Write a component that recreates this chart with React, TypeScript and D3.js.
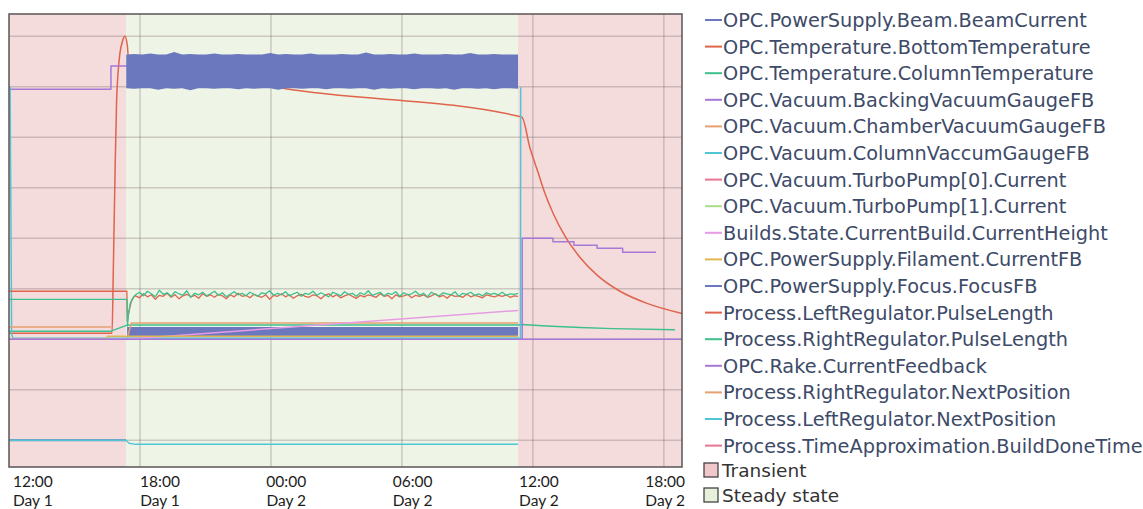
import { useEffect, useRef } from "react";
import * as d3 from "d3";

type Pt = [number, number | null];

// time axis: hours since 12:00 on day 1
const tickHours = [0, 6, 12, 18, 24, 30];
const tickTimes = ["12:00", "18:00", "00:00", "06:00", "12:00", "18:00"];
const tickDays = ["Day 1", "Day 1", "Day 2", "Day 2", "Day 2", "Day 2"];
const timeEnd = 30.83;
const gridValues = [0, 1, 2, 3, 4, 5, 6, 7, 8];

const regionStart = [0, 5.36, 23.32];
const regionEnd = [5.36, 23.32, 30.83];
const regionKind = ["Transient", "Steady state", "Transient"];
const regionFill: Record<string, string> = { Transient: "#f4dcdd", "Steady state": "#eff5e6" };
const regionSwatch: Record<string, string> = { Transient: "#f0c8cb", "Steady state": "#e6f0da" };
const legendRegions = ["Transient", "Steady state"];

const seriesNames = [
  "OPC.PowerSupply.Beam.BeamCurrent",
  "OPC.Temperature.BottomTemperature",
  "OPC.Temperature.ColumnTemperature",
  "OPC.Vacuum.BackingVacuumGaugeFB",
  "OPC.Vacuum.ChamberVacuumGaugeFB",
  "OPC.Vacuum.ColumnVaccumGaugeFB",
  "OPC.Vacuum.TurboPump[0].Current",
  "OPC.Vacuum.TurboPump[1].Current",
  "Builds.State.CurrentBuild.CurrentHeight",
  "OPC.PowerSupply.Filament.CurrentFB",
  "OPC.PowerSupply.Focus.FocusFB",
  "Process.LeftRegulator.PulseLength",
  "Process.RightRegulator.PulseLength",
  "OPC.Rake.CurrentFeedback",
  "Process.RightRegulator.NextPosition",
  "Process.LeftRegulator.NextPosition",
  "Process.TimeApproximation.BuildDoneTime",
];
const palette = [
  "#6b78be", "#e0634c", "#3dbf8e", "#a678d8", "#e6a072",
  "#4fc6d6", "#e87592", "#a9dd8a", "#e79be3", "#dfb650",
];

// dense oscillating signals, shown as min/max envelopes
const beamHi = [2.24, 2.24, 2.24, 2.24, 2.24];
const beamLo = [2.04, 2.04, 2.04, 2.04, 2.04];
const beamSpan = [5.41, 23.32];

const focusHi = [7.64, 7.65, 7.64, 7.66, 7.64, 7.64, 7.69, 7.64, 7.65, 7.64, 7.64, 7.66, 7.64, 7.64, 7.65, 7.64, 7.64,
  7.64, 7.67, 7.64, 7.65, 7.64, 7.64, 7.66, 7.64, 7.64, 7.64, 7.65, 7.64, 7.64, 7.68, 7.64, 7.64, 7.65, 7.64, 7.64,
  7.66, 7.64, 7.64, 7.64, 7.65, 7.64, 7.64, 7.67, 7.64, 7.64, 7.65, 7.64, 7.64, 7.64];
const focusLo = [6.97, 6.96, 6.97, 6.97, 6.94, 6.97, 6.96, 6.97, 6.93, 6.97, 6.97, 6.96, 6.97, 6.97, 6.95, 6.97, 6.96,
  6.97, 6.97, 6.94, 6.97, 6.97, 6.96, 6.97, 6.97, 6.95, 6.97, 6.97, 6.96, 6.97, 6.97, 6.94, 6.97, 6.96, 6.97, 6.97,
  6.95, 6.97, 6.97, 6.96, 6.97, 6.94, 6.97, 6.97, 6.96, 6.97, 6.95, 6.97, 6.97, 6.96];
const focusSpan = [5.37, 23.32];
const focusIdle: Pt[] = [[0, 0], [5.36, 0]];

const bottomTemp: Pt[] = [
  [0, 2.12], [4.72, 2.12], [4.78, 3.4], [4.86, 5.35], [4.93, 6.73], [5.0, 7.3], [5.08, 7.66], [5.21, 7.92],
  [5.31, 8.0], [5.42, 7.82], [5.47, 7.58], [12.55, 6.97], [23.49, 6.4], [23.87, 5.78], [24.23, 5.31],
  [24.55, 4.89], [24.92, 4.5], [25.47, 4.04], [26.16, 3.62], [26.94, 3.27], [27.99, 2.95], [29.23, 2.71],
  [30.83, 2.51],
];
const columnTemp: Pt[] = [
  [0, 2.16], [4.67, 2.16], [5.41, 2.28], [23.32, 2.28], [23.49, 2.29], [24.63, 2.26], [26.16, 2.23],
  [27.67, 2.21], [30.51, 2.19],
];
const backingVacuum: Pt[] = [
  [0, 6.95], [4.67, 7.41], [23.32, 7.41], [23.4, null], [23.47, 2.0], [23.51, 4.0], [24.92, 3.93],
  [25.88, 3.86], [26.94, 3.8], [28.11, 3.72], [29.64, 3.72],
];
const chamberVacuum: Pt[] = [[0, 2.0], [5.41, 2.0], [5.6, 2.32], [23.32, 2.32]];
const columnVacuum: Pt[] = [
  [0, 6.99], [0.05, 6.99], [0.08, 5.0], [0.12, 2.1], [0.18, 2.02], [23.43, 2.02], [23.44, 6.99],
];
const turboPump0: Pt[] = [];
const turboPump1: Pt[] = [];
const currentHeight: Pt[] = [[0, 2.0], [5.36, 2.0], [23.32, 2.57]];
const filament: Pt[] = [[0, 2.0], [4.45, 2.0], [4.52, 2.06], [23.32, 2.06]];
const rakeCurrent: Pt[] = [[0, 2.0], [30.83, 2.0]];
const rightNextPos: Pt[] = [[0, 2.24], [4.67, 2.24]];
const leftNextPos: Pt[] = [[0, 0], [5.36, 0], [5.5, -0.06], [5.8, -0.08], [23.32, -0.08]];
const buildDone: Pt[] = [];

// pulse length regulators: start-up, then sampled noisy signal
const leftPulseLead: Pt[] = [[0, 2.95], [5.4, 2.95], [5.42, 2.35], [5.5, 2.55], [5.6, 2.75], [5.72, 2.84]];
const rightPulseLead: Pt[] = [[0, 2.79], [5.4, 2.79], [5.43, 2.26], [5.47, 2.5], [5.55, 2.7], [5.65, 2.8], [5.75, 2.86]];
const pulseSpan = [5.8, 23.32];
const leftPulse = [
  2.86, 2.82, 2.9, 2.84, 2.88, 2.79, 2.87, 2.85, 2.91, 2.83, 2.88, 2.8, 2.86, 2.89, 2.84, 2.87, 2.81, 2.9, 2.85, 2.88,
  2.83, 2.89, 2.86, 2.8, 2.88, 2.84, 2.91, 2.85, 2.87, 2.82, 2.89, 2.86, 2.83, 2.88, 2.79, 2.87, 2.85, 2.9, 2.84, 2.88,
  2.81, 2.86, 2.89, 2.85, 2.83, 2.88, 2.86, 2.8, 2.87, 2.9, 2.84, 2.88, 2.82, 2.86, 2.89, 2.85, 2.81, 2.87, 2.84, 2.88,
  2.86, 2.83, 2.9, 2.85, 2.87, 2.8, 2.88, 2.84, 2.86, 2.89, 2.82, 2.87, 2.85, 2.88, 2.83, 2.86, 2.9, 2.84, 2.87, 2.81,
  2.88, 2.85, 2.86, 2.83, 2.89, 2.84, 2.87, 2.85, 2.82, 2.88, 2.86, 2.84, 2.87, 2.85, 2.88, 2.83, 2.86, 2.85,
];
const rightPulse = [
  2.88, 2.93, 2.86, 2.95, 2.9, 2.84, 2.97, 2.89, 2.92, 2.85, 2.94, 2.9, 2.87, 2.96, 2.83, 2.91, 2.88, 2.93, 2.86, 2.9,
  2.95, 2.87, 2.92, 2.84, 2.89, 2.94, 2.88, 2.91, 2.86, 2.93, 2.89, 2.85, 2.92, 2.9, 2.96, 2.87, 2.91, 2.88, 2.94, 2.86,
  2.9, 2.93, 2.85, 2.91, 2.89, 2.95, 2.87, 2.92, 2.88, 2.84, 2.93, 2.9, 2.86, 2.94, 2.89, 2.91, 2.85, 2.92, 2.88, 2.96,
  2.87, 2.9, 2.93, 2.86, 2.91, 2.89, 2.94, 2.85, 2.92, 2.88, 2.9, 2.95, 2.87, 2.91, 2.84, 2.93, 2.89, 2.86, 2.92, 2.9,
  2.88, 2.94, 2.85, 2.91, 2.89, 2.93, 2.87, 2.9, 2.86, 2.92, 2.89, 2.91, 2.88, 2.93, 2.87, 2.9, 2.89, 2.91,
];

const sampled = (vals: number[], span: number[]): [number, number][] =>
  vals.map((v, i) => [span[0] + (i * (span[1] - span[0])) / (vals.length - 1), v]);

function Chart() {
  const ref = useRef<SVGSVGElement>(null);

  useEffect(() => {
    if (!ref.current) return;
    const svg = d3.select(ref.current);
    svg.selectAll("*").remove();

    const left = 9, right = 682, top = 14, bottom = 467;
    const x = d3.scaleLinear().domain([0, timeEnd]).range([left, right]);
    const y = d3.scaleLinear().domain([-0.53, 8.44]).range([bottom, top]);

    const clip = svg.append("defs").append("clipPath").attr("id", "plotclip");
    clip.append("rect").attr("x", left).attr("y", top).attr("width", right - left).attr("height", bottom - top);

    // phase backgrounds
    svg.append("g")
      .selectAll("rect")
      .data(regionKind)
      .enter()
      .append("rect")
      .attr("x", (d, i) => x(regionStart[i]))
      .attr("width", (d, i) => x(regionEnd[i]) - x(regionStart[i]))
      .attr("y", top)
      .attr("height", bottom - top)
      .attr("fill", (d) => regionFill[d]);

    const grid = svg.append("g").attr("stroke", "rgba(105,85,90,0.28)").attr("stroke-width", 1.5);
    grid.selectAll("line.v")
      .data(tickHours.slice(1))
      .enter()
      .append("line")
      .attr("x1", (d) => x(d)).attr("x2", (d) => x(d))
      .attr("y1", top).attr("y2", bottom);
    grid.selectAll("line.h")
      .data(gridValues)
      .enter()
      .append("line")
      .attr("x1", left).attr("x2", right)
      .attr("y1", (d) => y(d)).attr("y2", (d) => y(d));

    const plot = svg.append("g").attr("clip-path", "url(#plotclip)");
    const line = d3.line<Pt>()
      .defined((d) => d[1] !== null)
      .x((d) => x(d[0]))
      .y((d) => y(d[1] as number));
    const band = d3.area<[number, number, number]>()
      .x((d) => x(d[0]))
      .y0((d) => y(d[2]))
      .y1((d) => y(d[1]));

    const drawLine = (data: Pt[], color: string, curve: d3.CurveFactory = d3.curveLinear, width = 1.5) => {
      if (!data.length) return;
      plot.append("path")
        .datum(data)
        .attr("fill", "none")
        .attr("stroke", color)
        .attr("stroke-width", width)
        .attr("stroke-linejoin", "round")
        .attr("d", line.curve(curve)(data));
    };
    const drawBand = (hi: number[], lo: number[], span: number[], color: string) => {
      const pts = sampled(hi, span).map((p, i) => [p[0], p[1], lo[i]] as [number, number, number]);
      plot.append("path").datum(pts).attr("fill", color).attr("d", band(pts));
    };

    drawBand(beamHi, beamLo, beamSpan, palette[0]);
    drawLine(bottomTemp, palette[1], d3.curveMonotoneX);
    drawLine(columnTemp, palette[2]);
    drawLine(backingVacuum, palette[3], d3.curveStepAfter);
    drawLine(chamberVacuum, palette[4]);
    drawLine(columnVacuum, palette[5]);
    drawLine(turboPump0, palette[6]);
    drawLine(turboPump1, palette[7]);
    drawLine(currentHeight, palette[8]);
    drawLine(filament, palette[9]);
    drawLine(focusIdle, palette[0], d3.curveLinear, 2);
    drawBand(focusHi, focusLo, focusSpan, palette[0]);
    drawLine([...leftPulseLead, ...sampled(leftPulse, pulseSpan)], palette[1], d3.curveLinear, 1.3);
    drawLine([...rightPulseLead, ...sampled(rightPulse, pulseSpan)], palette[2], d3.curveLinear, 1.3);
    drawLine(rakeCurrent, palette[3]);
    drawLine(rightNextPos, palette[4]);
    drawLine(leftNextPos, palette[5], d3.curveLinear, 1.3);
    drawLine(buildDone, palette[6]);

    // frame
    svg.append("rect")
      .attr("x", left).attr("y", top)
      .attr("width", right - left).attr("height", bottom - top)
      .attr("fill", "none").attr("stroke", "#5a5456").attr("stroke-width", 1.5);

    // x tick labels (two-line: time / day); labels sit a bit right of their gridline
    const labelShift = d3.scaleLinear().domain([6, 24]).range([20, 6]);
    const ticks = svg.append("g")
      .attr("font-family", "Lato, sans-serif")
      .attr("font-size", 15.5)
      .attr("fill", "#1c1c1c");
    const last = tickHours.length - 1;
    const anchor = (i: number) => (i === 0 ? "start" : i === last ? "end" : "middle");
    const tx = (i: number) =>
      i === 0 ? x(0) + 4 : i === last ? right + 3 : x(tickHours[i]) + labelShift(tickHours[i]);
    tickHours.forEach((h, i) => {
      const t = ticks.append("text").attr("text-anchor", anchor(i)).attr("y", 487);
      t.append("tspan").attr("x", tx(i)).text(tickTimes[i]);
      t.append("tspan").attr("x", tx(i)).attr("dy", 19).text(tickDays[i]);
    });

    // legend
    const lg = svg.append("g")
      .attr("font-family", "'DejaVu Sans', sans-serif")
      .attr("fill", "#3d4a68");
    const row = 26.6, y0 = 20;
    seriesNames.forEach((name, i) => {
      const cy = y0 + i * row;
      lg.append("line")
        .attr("x1", 705).attr("x2", 722).attr("y1", cy).attr("y2", cy)
        .attr("stroke", palette[i % palette.length]).attr("stroke-width", 2);
      lg.append("text").attr("x", 723).attr("y", cy).attr("dy", "0.36em").attr("font-size", 19.3).text(name);
    });
    legendRegions.forEach((k, j) => {
      const cy = 470 + j * 25;
      lg.append("rect")
        .attr("x", 704).attr("y", cy - 7).attr("width", 14).attr("height", 14)
        .attr("fill", regionSwatch[k])
        .attr("stroke", "#444").attr("stroke-width", 1.3);
      lg.append("text").attr("x", 722).attr("y", cy).attr("dy", "0.36em")
        .attr("font-size", 18.5).attr("fill", "#333").text(k);
    });
  }, []);

  return (
    <svg
      ref={ref}
      width={1143}
      height={509}
      style={{ position: "absolute", left: 0, top: 0, background: "#fff" }}
    />
  );
}

export default function App() {
  return <Chart />;
}
